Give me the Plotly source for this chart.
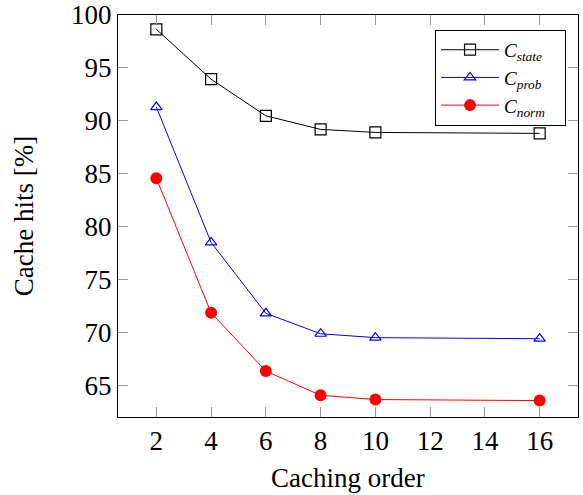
import plotly.graph_objects as go

orders = [2, 4, 6, 8, 10, 16]
c_state = [98.65, 93.93, 90.47, 89.19, 88.9, 88.81]
c_prob = [91.3, 78.5, 71.8, 69.87, 69.5, 69.4]
c_norm = [84.57, 71.85, 66.34, 64.05, 63.65, 63.55]
x_ticks = [2, 4, 6, 8, 10, 12, 14, 16]
y_ticks = [65, 70, 75, 80, 85, 90, 95, 100]
x_title = "Caching order"
y_title = "Cache hits [%]"

FONT = "Liberation Serif, Times New Roman, serif"
PAD = "&nbsp;&nbsp;&nbsp;"

fig = go.Figure()
fig.add_trace(go.Scatter(
    x=orders, y=c_state, mode="lines+markers",
    name="<i>C</i><sub><i>state</i></sub>" + PAD,
    line=dict(color="black", width=1),
    marker=dict(symbol="square-open", size=11, color="black", line=dict(width=1.2)),
))
fig.add_trace(go.Scatter(
    x=orders, y=c_prob, mode="lines+markers",
    name="<i>C</i><sub><i>prob</i></sub>" + PAD,
    line=dict(color="#0000ff", width=1),
    marker=dict(symbol="triangle-up-open", size=10, color="#0000ff", line=dict(width=1.2)),
))
fig.add_trace(go.Scatter(
    x=orders, y=c_norm, mode="lines+markers",
    name="<i>C</i><sub><i>norm</i></sub>" + PAD,
    line=dict(color="#ff0000", width=1),
    marker=dict(symbol="circle", size=12, color="#ff0000"),
))

axis_common = dict(
    showgrid=False, zeroline=False, automargin=False,
    showline=True, linecolor="black", linewidth=1,
    mirror="ticks", ticks="inside", ticklen=10, tickwidth=1, tickcolor="#999999",
    tickfont=dict(family=FONT, size=27, color="black"),
)

fig.update_layout(
    width=583, height=495,
    margin=dict(l=118, r=5, t=15, b=78, autoexpand=False),
    paper_bgcolor="white", plot_bgcolor="white",
    font=dict(family=FONT, color="black"),
    xaxis=dict(
        range=[0.6, 17.4], tickvals=x_ticks, ticktext=[str(v) for v in x_ticks],
        **axis_common,
    ),
    yaxis=dict(
        range=[62.0, 100.0], tickvals=y_ticks, ticktext=[str(v) for v in y_ticks],
        **axis_common,
    ),
    legend=dict(
        x=0.974, y=0.963, xanchor="right", yanchor="top",
        bgcolor="white", bordercolor="black", borderwidth=1,
        itemwidth=58,
        font=dict(family=FONT, size=19, color="black"),
    ),
    showlegend=True,
    annotations=[
        dict(text=x_title, xref="paper", yref="paper", x=0.5, y=-0.152,
             xanchor="center", yanchor="middle", showarrow=False,
             font=dict(family=FONT, size=27, color="black")),
        dict(text=y_title, xref="paper", yref="paper", x=-0.204, y=0.5,
             xanchor="center", yanchor="middle", textangle=-90, showarrow=False,
             font=dict(family=FONT, size=27, color="black")),
    ],
)

fig.write_html(
    "out.html",
    config={"displayModeBar": False},
    post_script="document.body.style.margin='0';document.body.style.overflow='hidden';",
)
